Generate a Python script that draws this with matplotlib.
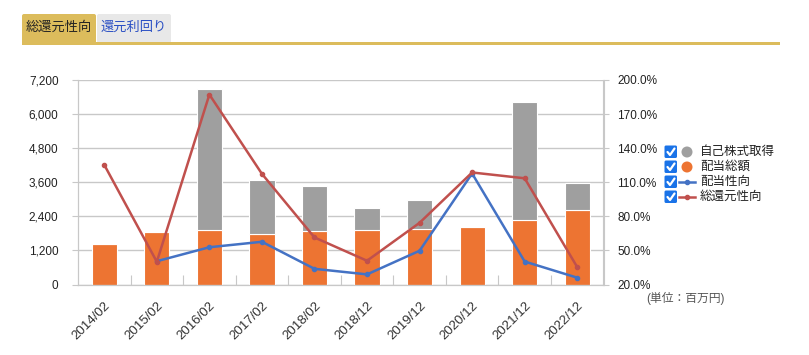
import matplotlib.pyplot as plt
import numpy as np
from matplotlib.patches import Rectangle, FancyBboxPatch, Circle
from matplotlib.ticker import FuncFormatter, FixedLocator

plt.rcParams['font.family'] = ['Liberation Sans', 'Noto Sans CJK JP', 'DejaVu Sans']

# data
periods = ['2014/02', '2015/02', '2016/02', '2017/02', '2018/02',
           '2018/12', '2019/12', '2020/12', '2021/12', '2022/12']
dividend_total = [1430, 1835, 1920, 1790, 1880, 1930, 1950, 2010, 2260, 2615]
buyback = [0, 0, 4970, 1905, 1605, 780, 1010, 0, 4170, 975]
payout_ratio = [np.nan, 40.5, 52.8, 57.6, 33.8, 28.9, 49.7, 117.7, 40.2, 26.0]
total_return_ratio = [125.3, 40.0, 187.2, 117.4, 61.4, 40.9, 74.3, 118.6, 113.5, 35.3]

legend_labels = ['自己株式取得', '配当総額', '配当性向', '総還元性向']
tab_labels = ['総還元性向', '還元利回り']

c_orange = '#ed7432'
c_gray = '#9f9f9f'
c_blue = '#4472c4'
c_red = '#c0504d'
c_grid = '#c8c8c8'
c_gold = '#dcbc5c'

W, H = 809, 355
fig = plt.figure(figsize=(W / 100, H / 100), dpi=100)

ax = fig.add_axes([78 / W, 1 - 284.5 / H, (603.5 - 78) / W, (284.5 - 80) / H])
ax2 = ax.twinx()

x = np.arange(len(periods))
ax.bar(x, dividend_total, width=0.48, color=c_orange, edgecolor='white', linewidth=0.8, zorder=2)
ax.bar(x, buyback, width=0.48, bottom=dividend_total, color=c_gray,
       edgecolor='white', linewidth=0.8, zorder=2)

ax2.plot(x, payout_ratio, color=c_blue, lw=1.8, marker='o', ms=3)
ax2.plot(x, total_return_ratio, color=c_red, lw=1.8, marker='o', ms=3)

ax.set_xlim(-0.5, len(periods) - 0.5)
ax.set_ylim(0, 7200)
ax.set_yticks(np.arange(0, 7201, 1200))
ax.yaxis.set_major_formatter(FuncFormatter(lambda v, p: f'{int(v):,}'))
ax2.set_ylim(20, 200)
ax2.set_yticks(np.arange(20, 201, 30))
ax2.yaxis.set_major_formatter(FuncFormatter(lambda v, p: f'{v:.1f}%'))

ax.set_axisbelow(True)
ax.grid(axis='y', color=c_grid, lw=1)

# category ticks sit between the bars, labels under each bar
ax.xaxis.set_major_locator(FixedLocator(np.arange(0.5, len(periods) - 1, 1)))
ax.xaxis.set_major_formatter(FuncFormatter(lambda v, p: ''))
ax.xaxis.set_minor_locator(FixedLocator(x))
ax.set_xticklabels(periods, minor=True, rotation=45, ha='right', va='top',
                   rotation_mode='anchor', fontsize=9.5, color='#333333')
ax.tick_params(axis='x', which='major', direction='in', length=7, color=c_grid)
ax.tick_params(axis='x', which='minor', length=0, pad=11)
ax.tick_params(axis='y', length=4, color=c_grid, labelsize=8.5, labelcolor='#222222', pad=10)
ax2.tick_params(axis='y', length=4, color=c_grid, labelsize=8.5, labelcolor='#222222', pad=6)

for a in (ax, ax2):
    a.spines['top'].set_visible(False)
    for s in ('left', 'right', 'bottom'):
        a.spines[s].set_color(c_grid)

# overlay in pixel coordinates for tabs and legend
ov = fig.add_axes([0, 0, 1, 1], zorder=5)
ov.set_xlim(0, W)
ov.set_ylim(H, 0)
ov.axis('off')

ov.add_patch(FancyBboxPatch((22, 14), 74, 30, boxstyle='round,pad=0,rounding_size=2',
                            fc=c_gold, ec='none'))
ov.add_patch(FancyBboxPatch((97, 14), 74, 29, boxstyle='round,pad=0,rounding_size=2',
                            fc='#e8e8e8', ec='none'))
ov.add_patch(Rectangle((22, 42), 758, 3, fc=c_gold, ec='none'))
ov.text(59, 28, tab_labels[0], ha='center', va='center', fontsize=9.5, color='#222222')
ov.text(134, 28, tab_labels[1], ha='center', va='center', fontsize=9.5, color='#2a4fc4')

rows = [152, 167, 182, 197]
for i, (yy, lab) in enumerate(zip(rows, legend_labels)):
    ov.add_patch(FancyBboxPatch((664.5, yy - 6.5), 12.5, 12.5,
                                boxstyle='round,pad=0,rounding_size=1.5',
                                fc='#1a73e8', ec='none'))
    ov.plot([667.5, 670, 674.5], [yy, yy + 3, yy - 3.5], color='white', lw=1.6,
            solid_capstyle='round', solid_joinstyle='round')
    if i == 0:
        ov.add_patch(Circle((687, yy), 5.5, fc=c_gray, ec='none'))
    elif i == 1:
        ov.add_patch(Circle((687, yy), 5.5, fc=c_orange, ec='none'))
    else:
        col = c_blue if i == 2 else c_red
        ov.plot([679, 695], [yy, yy], color=col, lw=1.8)
        ov.plot([687], [yy], color=col, marker='o', ms=3)
    ov.text(700, yy, lab, ha='left', va='center', fontsize=9, color='#222222')

ov.text(686, 298, '(単位：百万円)', ha='center', va='center', fontsize=8.5, color='#555555')

fig.savefig('out.png', dpi=100)
